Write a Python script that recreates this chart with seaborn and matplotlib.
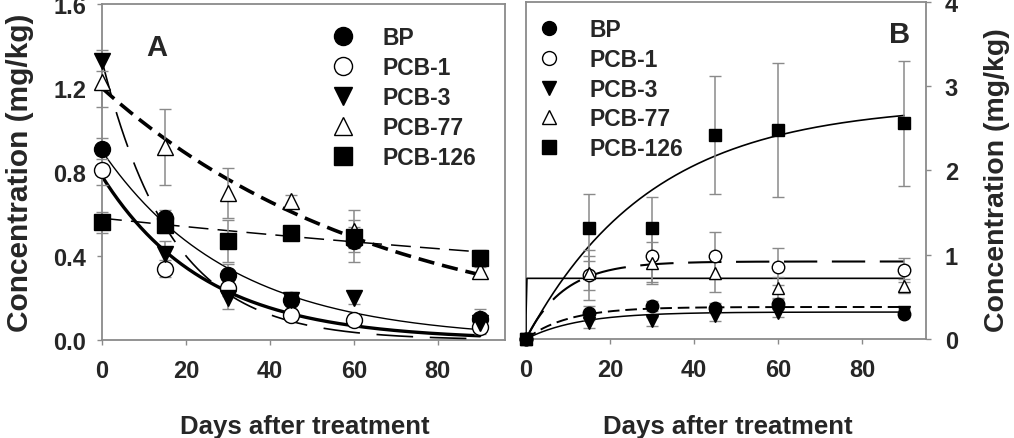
import numpy as np
import pandas as pd
import seaborn as sns
import matplotlib.pyplot as plt
from matplotlib.lines import Line2D

# ---------------------------------------
# 1. Data
# ---------------------------------------
days = [0, 15, 30, 45, 60, 90]
compounds = ["BP", "PCB-1", "PCB-3", "PCB-77", "PCB-126"]

# Panel A - concentration (mg/kg)
a_bp = [0.91, 0.58, 0.31, 0.19, 0.47, 0.10]
a_pcb1 = [0.81, 0.34, 0.25, 0.12, 0.095, 0.06]
a_pcb3 = [1.33, 0.41, 0.20, 0.19, 0.20, 0.08]
a_pcb77 = [1.23, 0.92, 0.70, 0.66, 0.52, 0.33]
a_pcb126 = [0.56, 0.55, 0.47, 0.51, 0.49, 0.39]

a_bp_err = [0.05, 0.04, 0.05, 0.04, 0.10, 0.05]
a_pcb1_err = [0.07, 0.04, 0.04, 0.03, 0.03, 0.03]
a_pcb3_err = [0.05, 0.06, 0.05, 0.03, 0.03, 0.03]
a_pcb77_err = [0.12, 0.18, 0.12, 0.03, 0.10, 0.03]
a_pcb126_err = [0.05, 0.04, 0.10, 0.03, 0.05, 0.04]

# Panel B - concentration (mg/kg)
b_bp = [0.0, 0.31, 0.39, 0.37, 0.42, 0.30]
b_pcb1 = [0.0, 0.76, 0.98, 0.99, 0.86, 0.82]
b_pcb3 = [0.0, 0.19, 0.21, 0.27, 0.31, 0.32]
b_pcb77 = [0.0, 0.78, 0.90, 0.78, 0.61, 0.63]
b_pcb126 = [0.0, 1.32, 1.32, 2.42, 2.48, 2.56]

b_bp_err = [0.0, 0.08, 0.06, 0.06, 0.06, 0.04]
b_pcb1_err = [0.0, 0.30, 0.30, 0.28, 0.22, 0.14]
b_pcb3_err = [0.0, 0.06, 0.05, 0.06, 0.05, 0.04]
b_pcb77_err = [0.0, 0.20, 0.25, 0.22, 0.12, 0.08]
b_pcb126_err = [0.0, 0.40, 0.37, 0.70, 0.80, 0.74]

# fitted first-order models: A decay c0*exp(-k t), B uptake a*(1-exp(-k t))
a_fit_c0 = [0.90, 0.78, 1.33, 1.20, 0.58]
a_fit_k = [0.0323, 0.0407, 0.060, 0.0150, 0.0036]
b_fit_a = [0.38, 0.92, 0.32, 0.72, 2.79]
b_fit_k = [0.10, 0.11, 0.08, 50.0, 0.0335]

# ---------------------------------------
# 2. Theme
# ---------------------------------------
sns.set_theme(style="white")
plt.rcParams["font.family"] = ["Liberation Sans", "DejaVu Sans"]
plt.rcParams["font.weight"] = "bold"

GRAY = "#8a8a8a"
markers = {"BP": ("o", "black"), "PCB-1": ("o", "white"), "PCB-3": ("v", "black"),
           "PCB-77": ("^", "white"), "PCB-126": ("s", "black")}

fig = plt.figure(figsize=(10.14, 4.39), dpi=100)
axA = fig.add_axes([0.1006, 0.2232, 0.3974, 0.7654])
axB = fig.add_axes([0.5187, 0.2255, 0.3945, 0.7677])

t = np.concatenate([[0.0], np.linspace(0.01, 90, 400)])


def style_axes(ax, right=False):
    for s in ax.spines.values():
        s.set_color(GRAY)
        s.set_linewidth(1.3)
    ax.tick_params(direction="out", length=3.5, width=1, color=GRAY,
                   labelsize=17, bottom=True, left=not right, right=right,
                   labelleft=not right, labelright=right)
    ax.tick_params(axis="x", pad=10)
    ax.tick_params(axis="y", pad=8 if not right else 10)
    for lab in ax.get_xticklabels() + ax.get_yticklabels():
        lab.set_fontweight("bold")


def draw_points(ax, series, errs, ms):
    for name, y, e in zip(compounds, series, errs):
        m, fc = markers[name]
        ax.errorbar(days, y, yerr=e, fmt=m, ms=ms, mfc=fc, mec="black",
                    mew=1.0, ecolor=GRAY, elinewidth=1.1, capsize=4,
                    capthick=1.1, clip_on=False, zorder=4)


def make_legend(ax, anchor, ms):
    handles = [Line2D([], [], ls="none", marker=markers[n][0], mfc=markers[n][1],
                      mec="black", ms=ms) for n in compounds]
    leg = ax.legend(handles, compounds, loc="upper left", bbox_to_anchor=anchor,
                    frameon=False, handlelength=1.0, handletextpad=1.25,
                    labelspacing=0.3, borderpad=0, borderaxespad=0,
                    prop={"size": 16.5, "weight": "bold"})
    return leg


# ---------------------------------------
# 3. Panel A - dissipation
# ---------------------------------------
a_styles = [dict(lw=1.0, ls="-"), dict(lw=2.4, ls="-"),
            dict(lw=1.2, ls=(0, (22, 10))), dict(lw=2.6, ls=(0, (4.5, 2.2))),
            dict(lw=1.1, ls=(0, (13, 6)))]
for name, c0, k, st in zip(compounds, a_fit_c0, a_fit_k, a_styles):
    fit = pd.DataFrame({"t": t, "c": c0 * np.exp(-k * t)})
    sns.lineplot(data=fit, x="t", y="c", ax=axA, color="black", zorder=3, **st)

draw_points(axA, [a_bp, a_pcb1, a_pcb3, a_pcb77, a_pcb126],
            [a_bp_err, a_pcb1_err, a_pcb3_err, a_pcb77_err, a_pcb126_err], 11.5)

axA.set_xlim(0, 96)
axA.set_ylim(0, 1.6)
axA.set_xticks([0, 20, 40, 60, 80])
axA.set_yticks([0.0, 0.4, 0.8, 1.2, 1.6])
axA.set_yticklabels(["0.0", "0.4", "0.8", "1.2", "1.6"])
axA.set_xlabel("")
axA.set_ylabel("")
style_axes(axA)
make_legend(axA, (0.569, 0.934), 13)
axA.text(0.136, 0.872, "A", transform=axA.transAxes, ha="center", va="center",
         fontsize=21, fontweight="bold")

# ---------------------------------------
# 4. Panel B - uptake
# ---------------------------------------
b_styles = [dict(lw=1.4, ls=(0, (6, 3))), dict(lw=1.5, ls=(0, (16, 7))),
            dict(lw=1.1, ls="-"), dict(lw=1.2, ls="-"), dict(lw=1.2, ls="-")]
for name, a, k, st in zip(compounds, b_fit_a, b_fit_k, b_styles):
    fit = pd.DataFrame({"t": t, "c": a * (1 - np.exp(-k * t))})
    sns.lineplot(data=fit, x="t", y="c", ax=axB, color="black", zorder=3, **st)

draw_points(axB, [b_bp, b_pcb1, b_pcb3, b_pcb77, b_pcb126],
            [b_bp_err, b_pcb1_err, b_pcb3_err, b_pcb77_err, b_pcb126_err], 9)

axB.set_xlim(0, 95.2)
axB.set_ylim(0, 4)
axB.set_xticks([0, 20, 40, 60, 80])
axB.set_yticks([0, 1, 2, 3, 4])
axB.set_xlabel("")
axB.set_ylabel("")
axB.yaxis.tick_right()
style_axes(axB, right=True)
make_legend(axB, (0.029, 0.953), 10)
axB.text(0.935, 0.905, "B", transform=axB.transAxes, ha="center", va="center",
         fontsize=21, fontweight="bold")

# ---------------------------------------
# 5. Axis titles
# ---------------------------------------
fig.text(20 / 1014, 1 - 173 / 439, "Concentration (mg/kg)", rotation=90,
         ha="center", va="center", fontsize=21.5, fontweight="bold")
fig.text(997 / 1014, 1 - 180 / 439, "Concentration (mg/kg)", rotation=90,
         ha="center", va="center", fontsize=20.5, fontweight="bold")
fig.text(305 / 1014, 1 - 427 / 439, "Days after treatment", ha="center",
         va="center", fontsize=18.5, fontweight="bold")
fig.text(728 / 1014, 1 - 427 / 439, "Days after treatment", ha="center",
         va="center", fontsize=18.5, fontweight="bold")

fig.savefig("out.png", dpi=100)
